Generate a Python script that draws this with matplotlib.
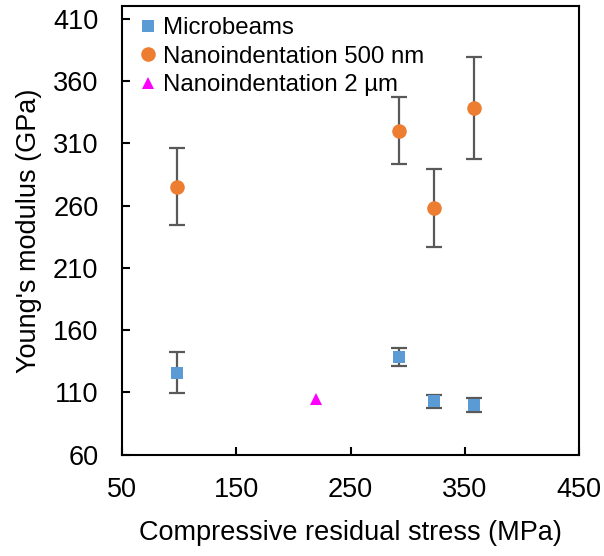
import matplotlib.pyplot as plt
import numpy as np

plt.rcParams['font.family'] = ['Liberation Sans', 'DejaVu Sans']

# Microbeams
mb_x = [98, 292, 323, 358]
mb_y = [126, 138.5, 102.8, 99.8]
mb_err = [16.5, 7.5, 5.4, 5.4]

# Nanoindentation 500 nm
ni500_x = [98, 292, 323, 358]
ni500_y = [275, 320, 258, 338]
ni500_err = [31, 27, 31, 41]

# Nanoindentation 2 um
ni2_x = [220]
ni2_y = [104.5]

xticks = [50, 150, 250, 350, 450]
yticks = [60, 110, 160, 210, 260, 310, 360, 410]

fig = plt.figure(figsize=(6.04, 5.56), dpi=100)
ax = fig.add_axes([0.202, 0.182, 0.757, 0.807])

ax.errorbar(mb_x, mb_y, yerr=mb_err, fmt='none', ecolor='#595959', elinewidth=1.6, capsize=5.5, capthick=1.6, zorder=2)
ax.errorbar(ni500_x, ni500_y, yerr=ni500_err, fmt='none', ecolor='#595959', elinewidth=1.6, capsize=5.5, capthick=1.6, zorder=2)
ax.plot(mb_x, mb_y, 's', color='#5B9BD5', markersize=9, markeredgewidth=0, label='Microbeams', zorder=3)
ax.plot(ni500_x, ni500_y, 'o', color='#ED7D31', markersize=10.5, markeredgewidth=0, label='Nanoindentation 500 nm', zorder=3)
ax.plot(ni2_x, ni2_y, '^', color='#FF00FF', markersize=8, markeredgewidth=0, label='Nanoindentation 2 \u00b5m', zorder=3)

ax.set_xlim(50, 450)
ax.set_ylim(60, 420)
ax.set_xticks(xticks)
ax.set_yticks(yticks)
ax.tick_params(direction='in', length=6, width=1.5, labelsize=19.5)
ax.tick_params(axis='x', pad=16)
ax.tick_params(axis='y', pad=17)
for s in ax.spines.values():
    s.set_linewidth(1.5)

ax.set_xlabel('Compressive residual stress (MPa)', fontsize=19.5, labelpad=12)
ax.set_ylabel("Young's modulus (GPa)", fontsize=19.5, labelpad=8)

ax.legend(loc='upper left', bbox_to_anchor=(0.015, 1.0), frameon=False, fontsize=17.3,
          handlelength=0.7, handletextpad=0.25, labelspacing=0.28, borderaxespad=0.2,
          borderpad=0.25)

fig.savefig('out.png', dpi=100)
